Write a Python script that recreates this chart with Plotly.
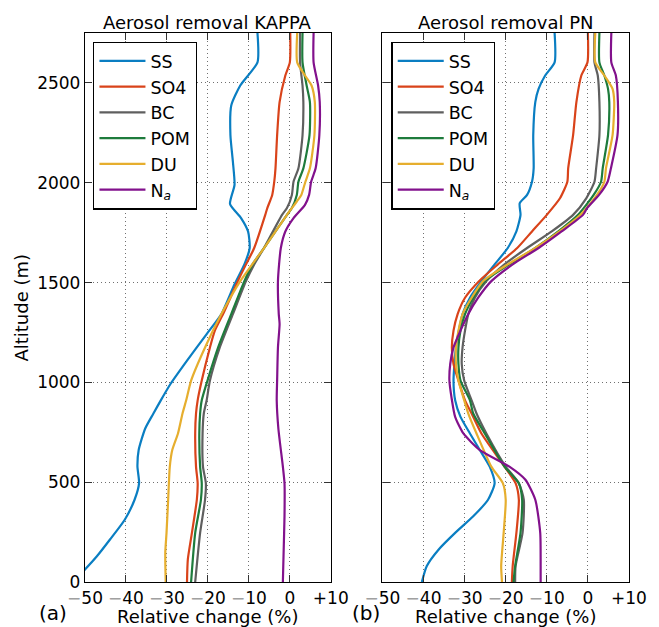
import plotly.graph_objects as go

# ---------------- data (altitude m, relative change %) ----------------
series_names = ["SS", "SO4", "BC", "POM", "DU", "N<sub><i>a</i></sub>"]
colors = ["#0A7EC2", "#D9431A", "#5F5F5F", "#1E7B3C", "#E6AE2E", "#82118C"]

# Panel (a): Aerosol removal KAPPA
ss_a_alt = [2750, 2603, 2487, 2387, 2238, 2105, 1989, 1893, 1823, 1756, 1673, 1591, 1491, 1342, 1242, 1109, 993, 910, 844, 769, 661, 578, 495, 412, 312, 213, 129, 63, 0]
ss_a_val = [-7.9, -7.9, -12.1, -14.3, -14.5, -13.9, -13.5, -14.6, -11.9, -10.2, -9.8, -11.1, -13.5, -16.7, -20.3, -25.1, -29.1, -31.5, -33.3, -35.3, -36.9, -37.2, -36.8, -37.9, -40.3, -43.9, -47.1, -50.0, -53.0]

so4_a_alt = [2750, 2603, 2537, 2404, 2238, 2072, 2005, 1939, 1873, 1839, 1673, 1591, 1507, 1342, 1259, 1175, 1009, 910, 844, 744, 578, 495, 412, 246, 113, 0]
so4_a_val = [0.1, 0.0, -1.1, -2.5, -3.1, -3.5, -3.8, -4.3, -5.5, -6.0, -8.7, -10.7, -12.7, -16.3, -18.3, -19.5, -21.5, -22.5, -22.9, -23.1, -22.9, -22.5, -22.7, -23.9, -24.9, -25.1]

bc_a_alt = [2750, 2603, 2487, 2404, 2238, 2072, 2005, 1939, 1873, 1839, 1673, 1591, 1507, 1342, 1175, 1009, 910, 844, 744, 578, 495, 412, 246, 0]
bc_a_val = [2.5, 2.5, 3.1, 3.3, 3.1, 2.1, 0.9, 0.5, -0.7, -1.9, -6.3, -8.7, -10.7, -13.9, -17.1, -19.5, -20.3, -21.0, -21.3, -21.2, -20.5, -20.7, -21.9, -23.1]

pom_a_alt = [2750, 2603, 2487, 2404, 2238, 2072, 2005, 1939, 1873, 1839, 1673, 1591, 1507, 1342, 1175, 1009, 910, 844, 744, 578, 495, 412, 246, 0]
pom_a_val = [3.1, 3.1, 4.1, 4.9, 4.8, 3.3, 2.1, 1.7, 0.5, -0.7, -6.3, -9.1, -11.1, -14.3, -17.5, -20.1, -21.5, -21.9, -22.1, -21.9, -21.5, -21.7, -23.1, -24.1]

du_a_alt = [2750, 2603, 2537, 2487, 2404, 2238, 2072, 2005, 1939, 1906, 1839, 1673, 1507, 1342, 1175, 1009, 910, 844, 744, 661, 578, 412, 246, 148, 0]
du_a_val = [1.8, 1.8, 3.7, 5.3, 6.1, 6.0, 4.9, 3.8, 2.8, 1.7, -0.7, -6.3, -12.1, -16.7, -20.7, -24.1, -25.3, -26.2, -27.3, -28.7, -29.3, -29.7, -30.1, -30.4, -30.3]

na_a_alt = [2750, 2603, 2487, 2404, 2238, 2072, 2005, 1939, 1889, 1823, 1756, 1673, 1507, 1342, 1292, 1175, 1009, 910, 769, 578, 495, 329, 163, 0]
na_a_val = [5.8, 5.8, 6.9, 7.3, 7.2, 6.3, 5.2, 4.7, 3.7, 0.9, -1.1, -2.2, -2.9, -2.7, -2.5, -2.9, -3.1, -3.2, -2.8, -1.7, -1.3, -1.3, -1.5, -1.7]

# Panel (b): Aerosol removal PN
ss_b_alt = [2750, 2603, 2537, 2470, 2404, 2238, 2072, 2005, 1939, 1897, 1839, 1756, 1673, 1591, 1507, 1424, 1342, 1175, 1009, 910, 827, 744, 661, 578, 495, 412, 329, 246, 163, 80, 0]
ss_b_val = [-8.1, -8.1, -10.4, -12.0, -12.8, -13.3, -13.2, -13.6, -14.8, -16.6, -16.4, -17.4, -19.5, -22.7, -25.9, -28.7, -30.5, -32.1, -32.7, -32.3, -31.0, -28.7, -26.3, -23.9, -22.7, -24.3, -27.9, -32.3, -36.3, -39.2, -40.4]

so4_b_alt = [2750, 2603, 2537, 2404, 2238, 2072, 2005, 1922, 1839, 1756, 1673, 1591, 1507, 1424, 1342, 1259, 1175, 1092, 1009, 910, 844, 744, 578, 495, 412, 246, 80, 0]
so4_b_val = [0.0, -0.1, -1.6, -2.8, -3.6, -4.8, -5.0, -6.8, -10.0, -13.6, -17.2, -21.9, -26.5, -29.9, -31.7, -32.7, -33.1, -32.7, -31.5, -29.9, -28.3, -25.9, -20.3, -17.6, -16.8, -17.4, -18.3, -18.5]

bc_b_alt = [2750, 2603, 2537, 2404, 2238, 2072, 2005, 1922, 1839, 1756, 1673, 1591, 1507, 1424, 1342, 1259, 1175, 1092, 1009, 910, 844, 744, 578, 495, 412, 246, 80, 0]
bc_b_val = [1.6, 1.6, 2.4, 2.8, 2.8, 2.0, 1.6, -0.4, -3.6, -8.8, -14.8, -20.3, -24.7, -27.5, -29.1, -29.9, -30.5, -30.7, -30.1, -28.3, -27.1, -24.7, -20.0, -16.8, -15.6, -15.9, -17.6, -17.7]

pom_b_alt = [2750, 2603, 2537, 2470, 2404, 2238, 2072, 2005, 1939, 1839, 1756, 1673, 1591, 1507, 1424, 1342, 1259, 1175, 1092, 1009, 910, 844, 744, 578, 495, 412, 246, 80, 0]
pom_b_val = [2.8, 2.8, 4.0, 4.9, 5.2, 4.9, 3.6, 3.2, 1.4, -2.4, -7.2, -12.8, -19.1, -25.1, -27.9, -29.9, -31.0, -31.5, -31.5, -31.0, -28.7, -27.9, -25.1, -20.3, -16.8, -16.0, -16.4, -17.7, -18.1]

du_b_alt = [2750, 2603, 2537, 2470, 2404, 2238, 2072, 2005, 1939, 1839, 1756, 1673, 1591, 1507, 1424, 1342, 1259, 1175, 1092, 1009, 910, 844, 744, 578, 495, 412, 246, 80, 0]
du_b_val = [1.8, 1.8, 4.0, 6.0, 6.4, 6.0, 4.4, 4.0, 2.2, -1.8, -6.9, -12.8, -19.5, -25.5, -28.3, -30.5, -31.5, -32.1, -32.1, -31.5, -30.1, -29.1, -27.1, -23.5, -20.7, -20.0, -20.5, -21.1, -20.9]

na_b_alt = [2750, 2603, 2537, 2404, 2238, 2072, 2005, 1939, 1873, 1839, 1756, 1673, 1591, 1507, 1424, 1342, 1259, 1175, 1092, 1009, 926, 827, 744, 661, 578, 512, 412, 246, 80, 0]
na_b_val = [5.7, 5.7, 6.8, 7.3, 7.2, 5.6, 4.8, 2.7, -0.2, -1.2, -6.4, -12.0, -18.3, -23.5, -26.7, -29.1, -31.0, -32.7, -33.5, -33.7, -33.2, -32.3, -30.3, -26.3, -19.1, -15.2, -12.8, -11.6, -11.5, -11.5]

x_tickvals = [-50, -40, -30, -20, -10, 0, 10]
x_ticktext = ["−50", "−40", "−30", "−20", "−10", "0", "+10"]
y_tickvals = [0, 500, 1000, 1500, 2000, 2500]
panel_titles = ["Aerosol removal KAPPA", "Aerosol removal PN"]
panel_labels = ["(a)", "(b)"]

panel_a = [(ss_a_alt, ss_a_val), (so4_a_alt, so4_a_val), (bc_a_alt, bc_a_val),
           (pom_a_alt, pom_a_val), (du_a_alt, du_a_val), (na_a_alt, na_a_val)]
panel_b = [(ss_b_alt, ss_b_val), (so4_b_alt, so4_b_val), (bc_b_alt, bc_b_val),
           (pom_b_alt, pom_b_val), (du_b_alt, du_b_val), (na_b_alt, na_b_val)]

# ---------------- figure ----------------
W, H = 659, 627
ML, MR, MT, MB = 85, 21, 33, 44.5
FONT = "DejaVu Sans, Verdana, sans-serif"

fig = go.Figure()
for p, (panel, xa, ya, leg) in enumerate([(panel_a, "x", "y", "legend"),
                                           (panel_b, "x2", "y2", "legend2")]):
    for i, (alt, val) in enumerate(panel):
        fig.add_trace(go.Scatter(
            x=val, y=alt, mode="lines", name=series_names[i],
            line=dict(color=colors[i], width=2.2, shape="spline", smoothing=0.6),
            xaxis=xa, yaxis=ya, legend=leg, legendgroup=f"g{p}{i}",
            showlegend=True, hoverinfo="skip"))

gray_minus = ["<span style='color:#a0a0a0'>−</span>" + t[1:] if t.startswith("−") else t
              for t in x_ticktext]

common_x = dict(range=[-50, 10], tickvals=x_tickvals, ticktext=gray_minus,
                ticks="inside", ticklen=7, tickcolor="#333", tickwidth=1,
                showline=True, linecolor="black", linewidth=1.3, mirror="allticks",
                showgrid=True, gridcolor="#707070", griddash="1px,3px", gridwidth=1,
                zeroline=False, tickfont=dict(family=FONT, size=17, color="black"),
                fixedrange=True)
common_y = dict(range=[0, 2750], tickvals=y_tickvals,
                ticks="inside", ticklen=7, tickcolor="#333", tickwidth=1,
                showline=True, linecolor="black", linewidth=1.3, mirror="allticks",
                showgrid=True, gridcolor="#707070", griddash="1px,3px", gridwidth=1,
                zeroline=False, tickfont=dict(family=FONT, size=17, color="black"),
                fixedrange=True)

dA = (0.0, 250 / 553.3)
dB = ((387.5 - 85) / 553.3, 1.0)

legend_common = dict(bgcolor="white", bordercolor="black", borderwidth=1.3,
                     font=dict(family=FONT, size=17.5, color="black"),
                     xanchor="left", yanchor="top", tracegroupgap=4,
                     itemwidth=46, traceorder="normal")

fig.update_layout(
    width=W, height=H, autosize=False,
    margin=dict(l=ML, r=MR, t=MT, b=MB),
    paper_bgcolor="white", plot_bgcolor="white",
    font=dict(family=FONT, size=17, color="black"),
    xaxis=dict(domain=list(dA), anchor="y", **common_x),
    yaxis=dict(domain=[0, 1], anchor="x", **common_y),
    xaxis2=dict(domain=list(dB), anchor="y2", **common_x),
    yaxis2=dict(domain=[0, 1], anchor="x2", showticklabels=False, **common_y),
    legend=dict(x=0.015, y=0.984, **legend_common),
    legend2=dict(x=0.5633, y=0.984, **legend_common),
    showlegend=True,
)

pw = W - ML - MR
ph = H - MT - MB

def px_to_paper_x(px):
    return (px - ML) / pw

def px_to_paper_y(py):
    return (H - MB - py) / ph

annotations = []
for d, t in zip([dA, dB], panel_titles):
    annotations.append(dict(text=t, x=(d[0] + d[1]) / 2, y=px_to_paper_y(22),
                            xref="paper", yref="paper", xanchor="center", yanchor="middle",
                            showarrow=False, font=dict(family=FONT, size=18)))
    annotations.append(dict(text="Relative change (%)", x=(d[0] + d[1]) / 2, y=px_to_paper_y(617),
                            xref="paper", yref="paper", xanchor="center", yanchor="middle",
                            showarrow=False, font=dict(family=FONT, size=18)))
annotations.append(dict(text="Altitude (m)", x=px_to_paper_x(20), y=0.5, textangle=-90,
                        xref="paper", yref="paper", xanchor="center", yanchor="middle",
                        showarrow=False, font=dict(family=FONT, size=18)))
for px, lab in zip([52, 371], panel_labels):
    annotations.append(dict(text=lab, x=px_to_paper_x(px), y=px_to_paper_y(614),
                            xref="paper", yref="paper", xanchor="center", yanchor="middle",
                            showarrow=False, font=dict(family=FONT, size=20)))
fig.update_layout(annotations=annotations)

fig.write_html("out.html", config={"displayModeBar": False},
               post_script="document.body.style.margin='0px';document.body.style.overflow='hidden';")
